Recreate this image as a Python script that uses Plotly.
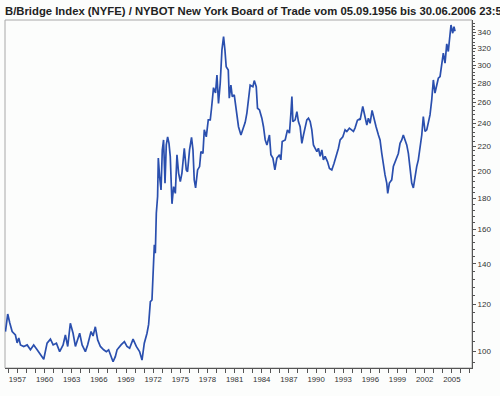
import plotly.graph_objects as go

title_text = "B/Bridge Index (NYFE) / NYBOT New York Board of Trade vom 05.09.1956 bis 30.06.2006 23:59"

years = [
    1956.68, 1956.93, 1957.16, 1957.42, 1957.78, 1957.97, 1958.15, 1958.34, 1958.70, 1959.08,
    1959.44, 1959.80, 1960.18, 1960.54, 1960.91, 1961.28, 1961.65, 1961.95, 1962.31, 1962.67,
    1963.05, 1963.30, 1963.56, 1963.85, 1964.15, 1964.41, 1964.88, 1965.15, 1965.51, 1965.76,
    1966.14, 1966.36, 1966.61, 1966.87, 1967.17, 1967.53, 1967.83, 1968.08, 1968.57, 1968.82,
    1969.01, 1969.45, 1969.82, 1970.11, 1970.40, 1970.78, 1971.14, 1971.50, 1971.77, 1972.02,
    1972.32, 1972.50, 1972.69, 1972.87, 1972.98, 1973.13, 1973.24, 1973.35, 1973.49, 1973.57,
    1973.71, 1973.87, 1974.01, 1974.15, 1974.31, 1974.45, 1974.60, 1974.75, 1974.89, 1975.08,
    1975.26, 1975.45, 1975.63, 1975.81, 1976.00, 1976.18, 1976.44, 1976.66, 1976.80, 1977.02,
    1977.24, 1977.40, 1977.54, 1977.69, 1977.91, 1978.13, 1978.28, 1978.50, 1978.65, 1978.87,
    1979.09, 1979.31, 1979.45, 1979.67, 1979.89, 1980.05, 1980.22, 1980.41, 1980.60, 1980.78,
    1980.93, 1981.07, 1981.30, 1981.41, 1981.59, 1981.74, 1981.96, 1982.18, 1982.43, 1982.70,
    1982.92, 1983.17, 1983.36, 1983.54, 1983.72, 1984.02, 1984.17, 1984.39, 1984.53, 1984.75,
    1985.01, 1985.19, 1985.38, 1985.57, 1985.85, 1986.01, 1986.23, 1986.45, 1986.67, 1986.96,
    1987.11, 1987.26, 1987.59, 1987.84, 1988.06, 1988.22, 1988.33, 1988.44, 1988.69, 1988.88,
    1989.05, 1989.24, 1989.43, 1989.61, 1989.79, 1989.98, 1990.16, 1990.35, 1990.53, 1990.71,
    1990.90, 1991.09, 1991.26, 1991.45, 1991.64, 1991.81, 1992.00, 1992.26, 1992.48, 1992.74,
    1992.99, 1993.22, 1993.47, 1993.66, 1993.96, 1994.21, 1994.40, 1994.68, 1994.95, 1995.13,
    1995.31, 1995.57, 1995.79, 1995.87, 1996.16, 1996.42, 1996.61, 1996.78, 1996.97, 1997.19,
    1997.41, 1997.63, 1997.89, 1998.07, 1998.26, 1998.44, 1998.62, 1998.81, 1998.92, 1999.10,
    1999.36, 1999.54, 1999.84, 2000.09, 2000.28, 2000.47, 2000.64, 2000.83, 2001.02, 2001.20,
    2001.38, 2001.57, 2001.75, 2001.94, 2002.12, 2002.30, 2002.49, 2002.68, 2002.85, 2003.04,
    2003.23, 2003.40, 2003.59, 2003.78, 2003.96, 2004.14, 2004.33, 2004.51, 2004.70, 2004.88,
    2005.06, 2005.25, 2005.44, 2005.61, 2005.80, 2005.91, 2006.10, 2006.24, 2006.35,
]

values = [
    108.0, 115.5, 111.6, 108.0, 106.6, 103.4, 105.4, 102.6, 102.0, 102.6,
    100.7, 102.6, 100.7, 98.7, 97.1, 103.3, 104.9, 102.6, 103.3, 100.0,
    102.6, 106.6, 102.0, 111.5, 107.3, 102.0, 107.3, 102.6, 100.0, 102.6,
    108.0, 106.2, 110.0, 104.6, 102.0, 100.7, 100.0, 100.7, 96.2, 98.1,
    100.7, 102.6, 103.9, 102.0, 101.3, 104.9, 102.0, 100.0, 96.8, 103.3,
    107.3, 111.0, 121.1, 121.9, 136.8, 150.6, 145.9, 170.1, 181.3, 210.1,
    195.9, 185.9, 216.8, 225.3, 190.9, 221.0, 228.0, 222.4, 211.5, 176.3,
    188.3, 183.5, 212.8, 198.4, 192.0, 198.4, 218.2, 200.8, 199.5, 216.8,
    227.5, 216.8, 193.3, 187.4, 200.8, 203.4, 215.4, 213.9, 234.2, 228.0,
    243.3, 243.3, 254.4, 275.3, 269.7, 289.0, 259.1, 280.0, 318.3, 335.0,
    318.3, 298.4, 294.7, 264.4, 278.0, 266.0, 267.9, 254.4, 237.0, 229.6,
    235.7, 241.0, 250.0, 266.0, 278.0, 276.4, 282.9, 276.4, 254.4, 252.8,
    244.9, 237.0, 225.3, 221.0, 229.6, 212.8, 210.1, 200.8, 210.1, 212.8,
    208.7, 223.9, 225.3, 234.2, 231.2, 249.6, 266.0, 241.7, 243.3, 251.2,
    241.7, 237.0, 222.4, 229.6, 237.0, 243.3, 244.9, 241.7, 234.2, 221.0,
    218.2, 215.4, 218.2, 211.5, 216.8, 208.7, 211.5, 207.3, 202.0, 200.8,
    206.0, 211.5, 218.2, 225.3, 228.0, 234.2, 232.7, 235.7, 234.2, 232.7,
    236.0, 243.0, 244.0, 243.3, 256.1, 246.5, 238.6, 244.9, 240.1, 252.3,
    243.3, 237.0, 229.6, 225.3, 213.9, 203.4, 197.0, 190.9, 183.5, 190.9,
    193.3, 203.4, 208.7, 213.9, 222.4, 225.3, 229.6, 225.3, 221.0, 213.9,
    203.4, 190.9, 187.4, 195.9, 203.4, 208.7, 219.6, 229.6, 246.5, 232.7,
    234.2, 240.1, 248.0, 262.7, 283.6, 269.7, 276.4, 285.5, 287.4, 300.4,
    314.2, 302.5, 325.7, 316.3, 337.5, 350.2, 339.3, 347.9, 341.9,
]

x_tick_years = [1957, 1960, 1963, 1966, 1969, 1972, 1975, 1978, 1981, 1984,
                1987, 1990, 1993, 1996, 1999, 2002, 2005]
y_tick_values = [100, 120, 140, 160, 180, 200, 220, 240, 260, 280, 300, 320, 340]
y_minor_values = [v for v in range(96, 356, 4) if v not in y_tick_values]

fig = go.Figure()
fig.add_trace(go.Scatter(
    x=years, y=values, mode="lines",
    line=dict(color="#2a4fae", width=1.7),
    showlegend=False, hoverinfo="skip",
))

tick_font = dict(family="Liberation Sans, Arial, sans-serif", size=8, color="#333333")

fig.update_layout(
    width=500, height=396,
    margin=dict(l=5, r=28, t=20, b=28, autoexpand=False),
    paper_bgcolor="#fcfdfc", plot_bgcolor="#fcfdfc",
    title=dict(
        text="<b>" + title_text + "</b>",
        font=dict(family="Liberation Sans, Arial, sans-serif", size=11.3, color="#222222"),
        x=0.01, xanchor="left", xref="container",
        y=0.972, yanchor="middle", yref="container",
    ),
    xaxis=dict(
        range=[1956.63, 2008.23],
        tickmode="array",
        tickvals=[y + 1 for y in x_tick_years],
        ticktext=[str(y) for y in x_tick_years],
        ticks="outside", ticklen=4, tickcolor="#555555", tickwidth=1,
        showline=True, linecolor="#555555", linewidth=1,
        showgrid=False, zeroline=False,
        tickfont=dict(family="Liberation Sans, Arial, sans-serif", size=7.8, color="#333333"),
        minor=dict(dtick=1, tick0=0, ticks="outside", ticklen=4, tickcolor="#555555", tickwidth=1, showgrid=False),
        automargin=False,
    ),
    yaxis=dict(
        type="log",
        range=[1.9727, 2.5526],
        side="right",
        tickmode="array",
        tickvals=y_tick_values,
        ticktext=[str(v) for v in y_tick_values],
        ticks="outside", ticklen=3, tickcolor="#555555", tickwidth=1,
        showline=True, linecolor="#555555", linewidth=1,
        showgrid=False, zeroline=False,
        tickfont=tick_font,
        minor=dict(tickmode="array", tickvals=y_minor_values, ticks="outside", ticklen=2,
                   tickcolor="#555555", tickwidth=1, showgrid=False),
        automargin=False,
    ),
    shapes=[dict(type="rect", xref="paper", yref="paper", x0=0, x1=1, y0=0, y1=1,
                 line=dict(color="#a8a8a8", width=1), layer="below")],
)

fig.write_html(
    "out.html",
    config={"displayModeBar": False},
    post_script="document.body.style.margin='0px';document.body.style.overflow='hidden';",
)
